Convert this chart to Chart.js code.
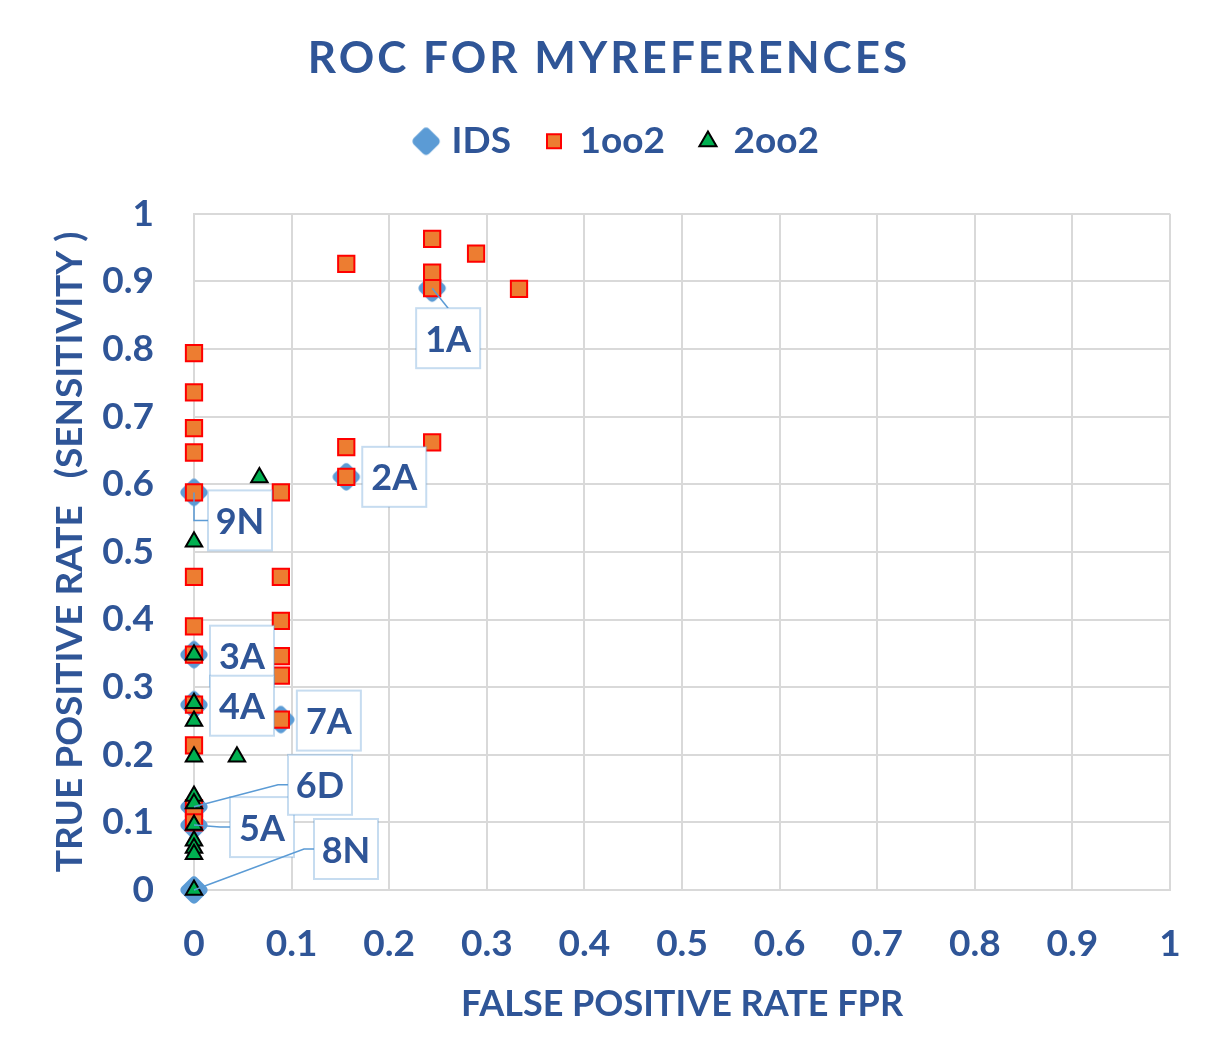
<!DOCTYPE html>
<html>
<head>
<meta charset="utf-8">
<script src="https://cdn.jsdelivr.net/npm/chart.js@4/dist/chart.umd.min.js"></script>
<style>
  html, body { margin: 0; padding: 0; background: #ffffff; }
  #wrap { width: 1209px; height: 1057px; }
</style>
</head>
<body>
<div id="wrap"><canvas id="c" width="1209" height="1057"></canvas></div>
<script>
// ---- data ----
const idsLabels = ['1A', '2A', '3A', '4A', '5A', '6D', '7A', '8N', '9N'];
const idsX = [0.244, 0.156, 0, 0, 0, 0, 0.089, 0, 0];
const idsY = [0.890, 0.611, 0.348, 0.274, 0.096, 0.123, 0.252, 0, 0.588];

const oo12X = [0.244, 0.289, 0.156, 0.244, 0.244, 0.333, 0, 0, 0, 0, 0.156, 0.244, 0.156, 0, 0.089,
               0, 0.089, 0, 0.089, 0, 0.089, 0.089, 0, 0.089, 0, 0, 0];
const oo12Y = [0.963, 0.941, 0.926, 0.913, 0.890, 0.889, 0.794, 0.736, 0.683, 0.647, 0.655, 0.662, 0.611, 0.588, 0.588,
               0.463, 0.463, 0.390, 0.398, 0.348, 0.346, 0.317, 0.274, 0.252, 0.214, 0.121, 0.100];

const oo22X = [0.067, 0, 0, 0, 0, 0, 0.044, 0, 0, 0, 0, 0, 0, 0];
const oo22Y = [0.610, 0.515, 0.348, 0.276, 0.250, 0.197, 0.197, 0.139, 0.128, 0.096, 0.073, 0.062, 0.053, 0];

const seriesNames = ['IDS', '1oo2', '2oo2'];
const tickLabels = ['0', '0.1', '0.2', '0.3', '0.4', '0.5', '0.6', '0.7', '0.8', '0.9', '1'];

// ---- styling ----
const TEXT = '#2F5597';
const FONT = 'Lato, "Open Sans", sans-serif';

function toPoints(xs, ys) { return xs.map((x, i) => ({ x: x, y: ys[i] })); }

// rounded diamond marker for IDS
const diamond = document.createElement('canvas');
diamond.width = 32; diamond.height = 32;
(function () {
  const g = diamond.getContext('2d');
  const c = 16, r = 15.5, k = 4.5;
  const pts = [[c, c - r], [c + r, c], [c, c + r], [c - r, c]];
  g.beginPath();
  const mid = (a, b) => [(a[0] + b[0]) / 2, (a[1] + b[1]) / 2];
  const m0 = mid(pts[3], pts[0]);
  g.moveTo(m0[0], m0[1]);
  for (let i = 0; i < 4; i++) {
    const p = pts[i], n = pts[(i + 1) % 4];
    const m = mid(p, n);
    g.arcTo(p[0], p[1], m[0], m[1], k);
  }
  g.closePath();
  g.fillStyle = '#5B9BD5';
  g.fill();
})();

// label boxes: offset of box centre from its point, and optional leader
const labelLayout = {
  '1A': { dx: 16, dy: 50, lead: 'top' },
  '2A': { dx: 48, dy: 0 },
  '3A': { dx: 48, dy: 1 },
  '4A': { dx: 48, dy: 1 },
  '5A': { dx: 68, dy: 2, lead: 'left' },
  '6D': { dx: 126, dy: -22, lead: 'left' },
  '7A': { dx: 48, dy: 1 },
  '8N': { dx: 152, dy: -41, lead: 'left' },
  '9N': { dx: 46, dy: 28, lead: 'down' }
};

const labelPlugin = {
  id: 'pointLabels',
  afterDatasetsDraw(chart) {
    const ctx = chart.ctx;
    const meta = chart.getDatasetMeta(0);
    const bw = 64, bh = 60;
    ctx.save();
    meta.data.forEach((pt, i) => {
      const name = idsLabels[i];
      const L = labelLayout[name];
      const cx = pt.x + L.dx, cy = pt.y + L.dy;
      const left = cx - bw / 2, top = cy - bh / 2;
      if (L.lead) {
        ctx.strokeStyle = '#5B9BD5';
        ctx.lineWidth = 1.5;
        ctx.beginPath();
        ctx.moveTo(pt.x, pt.y);
        if (L.lead === 'top') {
          ctx.lineTo(cx, top);
        } else if (L.lead === 'left') {
          ctx.lineTo(left - 10, cy);
          ctx.lineTo(left, cy);
        } else if (L.lead === 'down') {
          ctx.lineTo(pt.x, cy);
          ctx.lineTo(left, cy);
        }
        ctx.stroke();
      }
      ctx.fillStyle = '#ffffff';
      ctx.fillRect(left, top, bw, bh);
      ctx.strokeStyle = 'rgba(91,155,213,0.35)';
      ctx.lineWidth = 2;
      ctx.strokeRect(left, top, bw, bh);
      ctx.fillStyle = TEXT;
      ctx.font = 'bold 36px ' + FONT;
      ctx.textAlign = 'center';
      ctx.textBaseline = 'middle';
      ctx.fillText(name, cx, cy + 2);
    });
    ctx.restore();
  }
};

const tweakPlugin = {
  id: 'tweaks',
  beforeUpdate(chart) {
    if (chart.legend && !chart.legend._patched) {
      const lg = chart.legend;
      const origFit = lg.fit;
      lg.fit = function () { origFit.call(this); this.height += 46; };
      const origDraw = lg.draw;
      lg.draw = function () {
        const ctx = this.ctx;
        ctx.save();
        ctx.translate(10, 2);
        origDraw.apply(this, arguments);
        ctx.restore();
      };
      lg._patched = true;
    }
  },
  beforeDraw(chart) {
    const tb = chart.titleBlock;
    if (tb && !tb._patched) {
      const orig = tb.draw;
      tb.draw = function () {
        const ctx = this.ctx;
        ctx.save();
        ctx.letterSpacing = '3px';
        orig.apply(this, arguments);
        ctx.restore();
      };
      tb._patched = true;
    }
  }
};

new Chart(document.getElementById('c'), {
  type: 'scatter',
  data: {
    datasets: [
      {
        label: seriesNames[0],
        data: toPoints(idsX, idsY),
        pointStyle: diamond,
        backgroundColor: '#5B9BD5',
        borderColor: '#5B9BD5',
        clip: false,
        order: 3
      },
      {
        label: seriesNames[1],
        data: toPoints(oo12X, oo12Y),
        pointStyle: 'rect',
        pointRadius: 11.5,
        pointHoverRadius: 11.5,
        backgroundColor: '#ED7D31',
        borderColor: '#FF0000',
        borderWidth: 2,
        clip: false,
        order: 2
      },
      {
        label: seriesNames[2],
        data: toPoints(oo22X, oo22Y),
        pointStyle: 'triangle',
        pointRadius: 9.5,
        pointHoverRadius: 9.5,
        backgroundColor: '#00B050',
        borderColor: '#000000',
        borderWidth: 2,
        clip: false,
        order: 1
      }
    ]
  },
  options: {
    responsive: false,
    animation: false,
    events: [],
    layout: { padding: { left: 40, right: 31, top: 0, bottom: 0 } },
    plugins: {
      title: {
        display: true,
        text: 'ROC FOR MYREFERENCES',
        color: TEXT,
        font: { family: FONT, size: 44, weight: 'bold' },
        padding: { top: 32, bottom: 0 }
      },
      legend: {
        display: true,
        position: 'top',
        labels: {
          usePointStyle: true,
          boxWidth: 14,
          boxHeight: 14,
          padding: 36,
          color: TEXT,
          font: { family: FONT, size: 37, weight: 'bold' },
          sort: (a, b) => a.datasetIndex - b.datasetIndex
        }
      },
      tooltip: { enabled: false }
    },
    scales: {
      x: {
        type: 'linear',
        min: 0, max: 1,
        ticks: {
          stepSize: 0.1,
          color: TEXT,
          padding: 32,
          font: { family: FONT, size: 37, weight: 'bold' },
          callback: (v, i) => tickLabels[i]
        },
        grid: { color: '#D9D9D9', lineWidth: 2, drawTicks: false },
        border: { color: '#D9D9D9', width: 2 },
        title: {
          display: true,
          text: 'FALSE POSITIVE RATE FPR',
          color: TEXT,
          font: { family: FONT, size: 36, weight: 'bold' },
          padding: { top: 31, bottom: 31 }
        },
        afterFit: (s) => { s.height = 167; s.paddingRight = 39; }
      },
      y: {
        type: 'linear',
        min: 0, max: 1,
        ticks: {
          stepSize: 0.1,
          color: TEXT,
          padding: 40,
          font: { family: FONT, size: 37, weight: 'bold' },
          callback: (v, i) => tickLabels[i]
        },
        grid: { color: '#D9D9D9', lineWidth: 2, drawTicks: false },
        border: { color: '#D9D9D9', width: 2 },
        title: {
          display: true,
          text: 'TRUE POSITIVE RATE   (SENSITIVITY )',
          color: TEXT,
          font: { family: FONT, size: 37, weight: 'bold' },
          padding: { top: 8, bottom: 8 }
        },
        afterFit: (s) => { s.width = 154; }
      }
    }
  },
  plugins: [labelPlugin, tweakPlugin]
});
</script>
</body>
</html>
